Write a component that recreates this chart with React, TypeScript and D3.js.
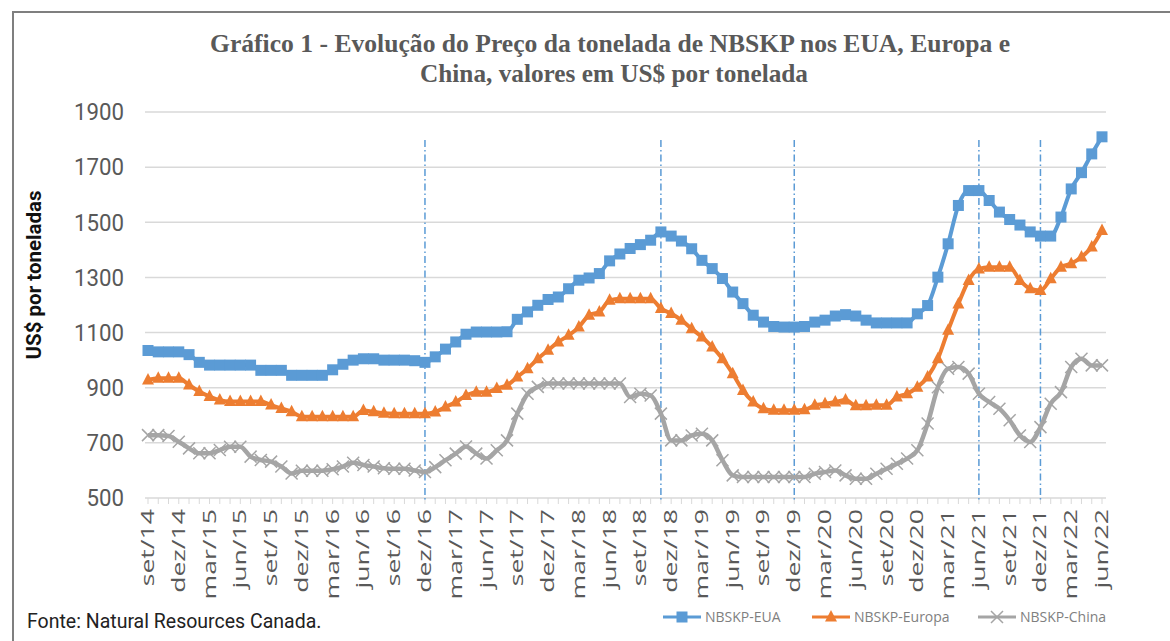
import React from 'react';
import * as d3 from 'd3';

// month categories, set/14 .. jun/22
const monthNames = ['jan', 'fev', 'mar', 'abr', 'mai', 'jun', 'jul', 'ago', 'set', 'out', 'nov', 'dez'];
const months: string[] = [];
for (let y = 2014; y <= 2022; y++) {
  monthNames.forEach((m, k) => {
    if ((y === 2014 && k < 8) || (y === 2022 && k > 5)) return;
    months.push(`${m}/${String(y).slice(2)}`);
  });
}

const tickLabels = [
  'set/14', 'dez/14', 'mar/15', 'jun/15', 'set/15', 'dez/15', 'mar/16', 'jun/16',
  'set/16', 'dez/16', 'mar/17', 'jun/17', 'set/17', 'dez/17', 'mar/18', 'jun/18',
  'set/18', 'dez/18', 'mar/19', 'jun/19', 'set/19', 'dez/19', 'mar/20', 'jun/20',
  'set/20', 'dez/20', 'mar/21', 'jun/21', 'set/21', 'dez/21', 'mar/22', 'jun/22',
];

const yTicks = [500, 700, 900, 1100, 1300, 1500, 1700, 1900];

// vertical reference lines
const markerMonths = ['dez/16', 'nov/18', 'dez/19', 'jun/21', 'dez/21'];

const eua = [
  1035, 1030, 1030, 1030, 1020, 992, 982, 982, 982, 982,
  982, 963, 963, 963, 945, 945, 945, 945, 965, 985,
  1000, 1005, 1005, 1000, 1000, 1000, 998, 992, 1012, 1040,
  1066, 1094, 1102, 1102, 1102, 1103, 1148, 1175, 1199, 1220,
  1229, 1259, 1290, 1298, 1314, 1360, 1385, 1405, 1419, 1435,
  1465, 1450, 1432, 1404, 1362, 1332, 1296, 1247, 1205, 1163,
  1138, 1122, 1120, 1120, 1122, 1138, 1145, 1160, 1165, 1160,
  1145, 1135, 1135, 1135, 1135, 1168, 1198, 1301, 1422, 1561,
  1615, 1615, 1579, 1537, 1510, 1490, 1465, 1450, 1450, 1519,
  1621, 1680, 1748, 1810,
];

const europa = [
  928, 934, 934, 934, 910, 886, 868, 855, 850, 850,
  850, 850, 837, 825, 813, 795, 795, 795, 795, 795,
  795, 817, 813, 807, 806, 806, 806, 806, 812, 830,
  848, 872, 884, 884, 897, 909, 939, 969, 1005, 1036,
  1066, 1090, 1120, 1163, 1175, 1217, 1223, 1223, 1223, 1223,
  1187, 1169, 1145, 1114, 1084, 1048, 1005, 951, 890, 848,
  824, 818, 818, 818, 820, 836, 842, 848, 855, 835,
  835, 836, 836, 866, 878, 902, 939, 1005, 1108, 1204,
  1289, 1331, 1337, 1337, 1337, 1289, 1259, 1253, 1295, 1337,
  1350, 1374, 1410, 1470,
];

const china = [
  728, 728, 725, 704, 680, 662, 662, 674, 686, 686,
  650, 638, 632, 614, 589, 599, 599, 599, 604, 614,
  628, 620, 614, 608, 606, 606, 600, 594, 612, 637,
  661, 687, 661, 643, 673, 709, 806, 878, 903, 915,
  915, 915, 915, 915, 915, 915, 915, 866, 878, 872,
  806, 709, 709, 727, 733, 709, 637, 582, 576, 576,
  576, 576, 576, 576, 576, 588, 594, 600, 582, 570,
  570, 588, 606, 624, 643, 673, 770, 902, 969, 975,
  951, 878, 848, 824, 782, 727, 703, 757, 842, 884,
  975, 1005, 981, 981,
];

const seriesNames = ['NBSKP-EUA', 'NBSKP-Europa', 'NBSKP-China'];
const colors = ['#5B9BD5', '#ED7D31', '#A5A5A5'];

const W = 1170;
const H = 641;
const left = 148;
const right = 1102;
const top = 112;
const bottom = 498;

function Marker({ kind, x, y, color }: { kind: number; x: number; y: number; color: string }) {
  if (kind === 0) {
    return <rect x={x - 5.5} y={y - 5.5} width={11} height={11} fill={color} />;
  }
  if (kind === 1) {
    return <path d={`M${x},${y - 7} L${x + 6},${y + 4.5} L${x - 6},${y + 4.5} Z`} fill={color} />;
  }
  return (
    <path
      d={`M${x - 6},${y - 6} L${x + 6},${y + 6} M${x - 6},${y + 6} L${x + 6},${y - 6}`}
      stroke={color}
      strokeWidth={1.5}
      fill="none"
    />
  );
}

export default function App() {
  const x = d3.scalePoint<string>().domain(months).range([left, right]);
  const y = d3.scaleLinear().domain([500, 1900]).range([bottom, top]);
  const all = [eua, europa, china];

  const line = d3
    .line<number>()
    .x((_, i) => x(months[i]) as number)
    .y((d) => y(d))
    .curve(d3.curveMonotoneX);

  const legendX = [663, 812, 978];

  return (
    <div style={{ position: 'fixed', left: 0, top: 0 }}>
      <svg width={W} height={H} viewBox={`0 0 ${W} ${H}`} style={{ display: 'block', background: '#fff' }}>
        <rect x={0} y={0} width={W} height={H} fill="#fff" />
        {/* frame */}
        <path d={`M13,${H} L13,12 L${W},12`} fill="none" stroke="#7f7f7f" strokeWidth={2} />

        {/* title */}
        <g fontFamily="'Liberation Serif', 'DejaVu Serif', serif" fontWeight="bold" fontSize={26} fill="#595959">
          <text x={210} y={52} textLength={800} lengthAdjust="spacingAndGlyphs">
            Gráfico 1 - Evolução do Preço da tonelada de NBSKP nos EUA, Europa e
          </text>
          <text x={420} y={82} textLength={388} lengthAdjust="spacingAndGlyphs">
            China, valores em US$ por tonelada
          </text>
        </g>

        {/* grid */}
        {yTicks.map((t) => (
          <g key={t}>
            {t > 500 && <line x1={left - 3} x2={right + 4} y1={y(t)} y2={y(t)} stroke="#d9d9d9" strokeWidth={1.5} />}
            <text
              x={124}
              y={y(t)}
              dy="0.36em"
              textAnchor="end"
              fontFamily="Roboto, sans-serif"
              fontSize={23}
              textLength={String(t).length * 12.5}
              lengthAdjust="spacingAndGlyphs"
              fill="#595959"
            >
              {t}
            </text>
          </g>
        ))}

        {/* x axis */}
        <line x1={left - 3} x2={right + 4} y1={bottom} y2={bottom} stroke="#d9d9d9" strokeWidth={1.5} />
        {months.map((m) => (
          <line key={m} x1={x(m)} x2={x(m)} y1={bottom} y2={bottom + 6} stroke="#d9d9d9" strokeWidth={1} />
        ))}
        {tickLabels.map((m) => (
          <text
            key={m}
            transform={`translate(${(x(m) as number) + 6},${bottom + 11}) rotate(-90) scale(1.4,1)`}
            textAnchor="end"
            fontFamily="'Open Sans', sans-serif"
            fontSize={19}
            fill="#595959"
          >
            {m}
          </text>
        ))}

        {/* vertical dash-dot markers */}
        {markerMonths.map((m) => (
          <line
            key={m}
            x1={x(m)}
            x2={x(m)}
            y1={140}
            y2={bottom + 2}
            stroke="#5B9BD5"
            strokeWidth={1.5}
            strokeDasharray="7 3 1.5 3"
          />
        ))}

        {/* y label */}
        <text
          transform="translate(41,275) rotate(-90)"
          textAnchor="middle"
          fontFamily="Roboto, sans-serif"
          fontWeight="bold"
          fontSize={20.5}
          fill="#111"
        >
          US$ por toneladas
        </text>

        {/* series */}
        {all.map((s, k) => (
          <g key={seriesNames[k]}>
            <path d={line(s) || ''} fill="none" stroke={colors[k]} strokeWidth={k === 2 ? 4.5 : 4} />
            {s.map((v, i) => (
              <Marker key={i} kind={k} x={x(months[i]) as number} y={y(v)} color={colors[k]} />
            ))}
          </g>
        ))}

        {/* legend */}
        {seriesNames.map((n, k) => (
          <g key={n}>
            <line x1={legendX[k]} x2={legendX[k] + 38} y1={617} y2={617} stroke={colors[k]} strokeWidth={3} />
            <Marker kind={k} x={legendX[k] + 19} y={617} color={colors[k]} />
            <text x={legendX[k] + 42} y={617} dy="0.35em" fontFamily="'Open Sans', sans-serif" fontSize={14} fill="#7f7f7f">
              {n}
            </text>
          </g>
        ))}

        <text x={27} y={628} fontFamily="Roboto, sans-serif" fontSize={19.5} fill="#222">
          Fonte: Natural Resources Canada.
        </text>
      </svg>
    </div>
  );
}
